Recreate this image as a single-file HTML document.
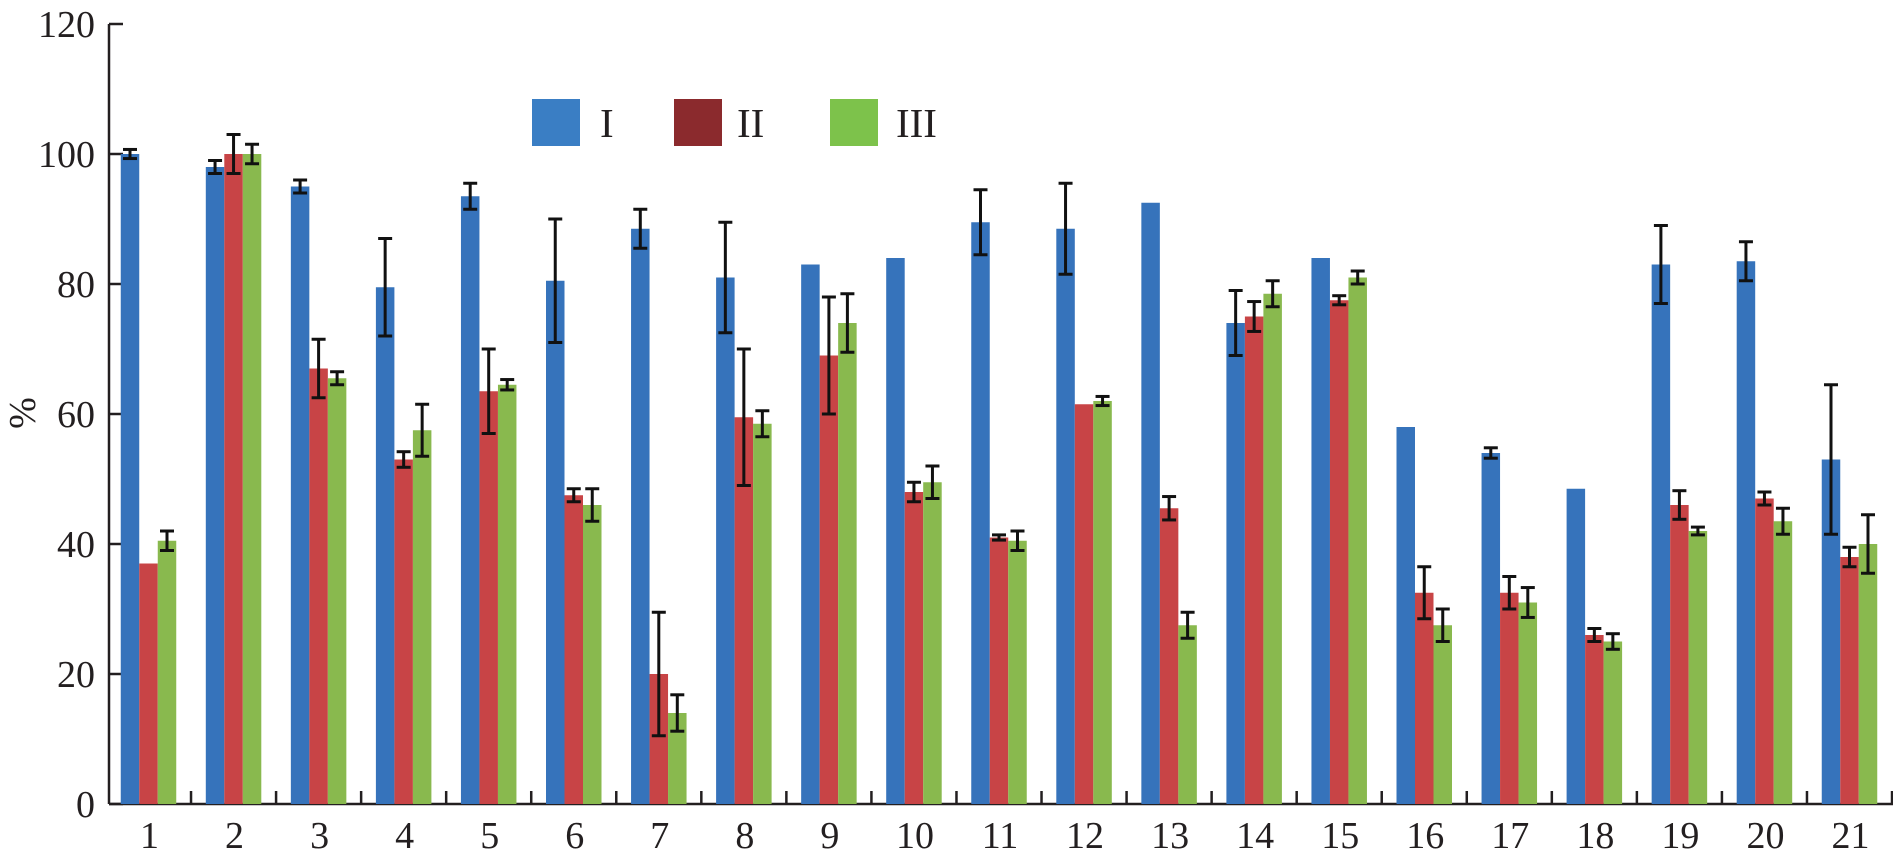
<!DOCTYPE html>
<html><head><meta charset="utf-8"><style>
body{margin:0;background:#fff;}
svg text{font-family:"Liberation Serif",serif;fill:#231f20;}
</style></head><body>
<svg id="chart" width="1893" height="862">
<g id="axes"></g><g id="bars"></g><g id="legend"></g>
</svg>
<script>
const categories=["1","2","3","4","5","6","7","8","9","10","11","12","13","14","15","16","17","18","19","20","21"];
const seriesNames=["I","II","III"];
const valuesI=[100,98,95,79.5,93.5,80.5,88.5,81,83,84,89.5,88.5,92.5,74,84,58,54,48.5,83,83.5,53];
const errI=[0.7,1,1,7.5,2,9.5,3,8.5,0,0,5,7,0,5,0,0,0.8,0,6,3,11.5];
const valuesII=[37,100,67,53,63.5,47.5,20,59.5,69,48,41,61.5,45.5,75,77.5,32.5,32.5,26,46,47,38];
const errII=[0,3,4.5,1.2,6.5,1,9.5,10.5,9,1.5,0.4,0,1.8,2.3,0.7,4,2.5,1,2.2,1,1.5];
const valuesIII=[40.5,100,65.5,57.5,64.5,46,14,58.5,74,49.5,40.5,62,27.5,78.5,81,27.5,31,25,42,43.5,40];
const errIII=[1.5,1.5,1,4,0.8,2.5,2.8,2,4.5,2.5,1.5,0.7,2,2,1,2.5,2.3,1.2,0.6,2,4.5];
const yTicks=[0,20,40,60,80,100,120];
const NS="http://www.w3.org/2000/svg";
const x0=109,yBase=804,pxPerUnit=6.5,step=85.05,firstCenter=148.5,barW=18.5;
const y=v=>yBase-v*pxPerUnit;
const xc=i=>firstCenter+i*step;
const colors=["#3673bb","#c84446","#89b94e"];
function mk(tag,attrs,parent){const e=document.createElementNS(NS,tag);for(const k in attrs)e.setAttribute(k,attrs[k]);parent.appendChild(e);return e;}
const axes=document.getElementById('axes'),bars=document.getElementById('bars'),legend=document.getElementById('legend');
let a=mk('line',{x1:x0,y1:y(120),x2:x0,y2:yBase,stroke:'#231f20','stroke-width':2.5},axes);


a=mk('line',{x1:x0,y1:yBase,x2:1893,y2:yBase,stroke:'#231f20','stroke-width':2.5},axes);


yTicks.forEach(t=>{
 const l=mk('line',{x1:x0,y1:y(t),x2:x0+14,y2:y(t),stroke:'#231f20','stroke-width':2.5},axes);
 
 
 const tx=mk('text',{x:x0-14,y:y(t)+13,'text-anchor':'end','font-size':38},axes);
 tx.textContent=t;
 
 
});
categories.forEach((c,i)=>{
 const l=mk('line',{x1:xc(i)+step/2,y1:yBase,x2:xc(i)+step/2,y2:yBase-13,stroke:'#231f20','stroke-width':2.5},axes);
 
 
 const tx=mk('text',{x:xc(i)+1,y:848,'text-anchor':'middle','font-size':38},axes);
 tx.textContent=c;
 
 
});
const yt=mk('text',{x:0,y:0,'text-anchor':'middle','font-size':38,transform:'translate(35,413) rotate(-90)'},axes);
yt.textContent='%';


const allVals=[valuesI,valuesII,valuesIII],allErr=[errI,errII,errIII];
categories.forEach((c,i)=>{
 for(let s=0;s<3;s++){
  const v=allVals[s][i],e=allErr[s][i];
  const left=xc(i)-barW*1.5+s*barW;
  const r=mk('rect',{x:left,y:y(v),width:barW,height:yBase-y(v),fill:colors[s]},bars);
  
  
  if(e>0){
   const cx=left+barW/2;
   const g=mk('g',{stroke:'#111','stroke-width':3},bars);
   
   
   mk('line',{x1:cx,y1:y(v+e),x2:cx,y2:y(v-e)},g);
   mk('line',{x1:cx-7,y1:y(v+e),x2:cx+7,y2:y(v+e)},g);
   mk('line',{x1:cx-7,y1:y(v-e),x2:cx+7,y2:y(v-e)},g);
  }
 }
});
const legX=[532,674,830],legTX=[600,737,896],legColors=["#3a7ec4","#8b2a2d","#7dc24b"];
seriesNames.forEach((n,s)=>{
 const r=mk('rect',{x:legX[s],y:99,width:48,height:47,fill:legColors[s]},legend);
 
 
 const t=mk('text',{x:legTX[s],y:137,'font-size':41},legend);
 t.textContent=n;
 
 
});
</script>
</body></html>
